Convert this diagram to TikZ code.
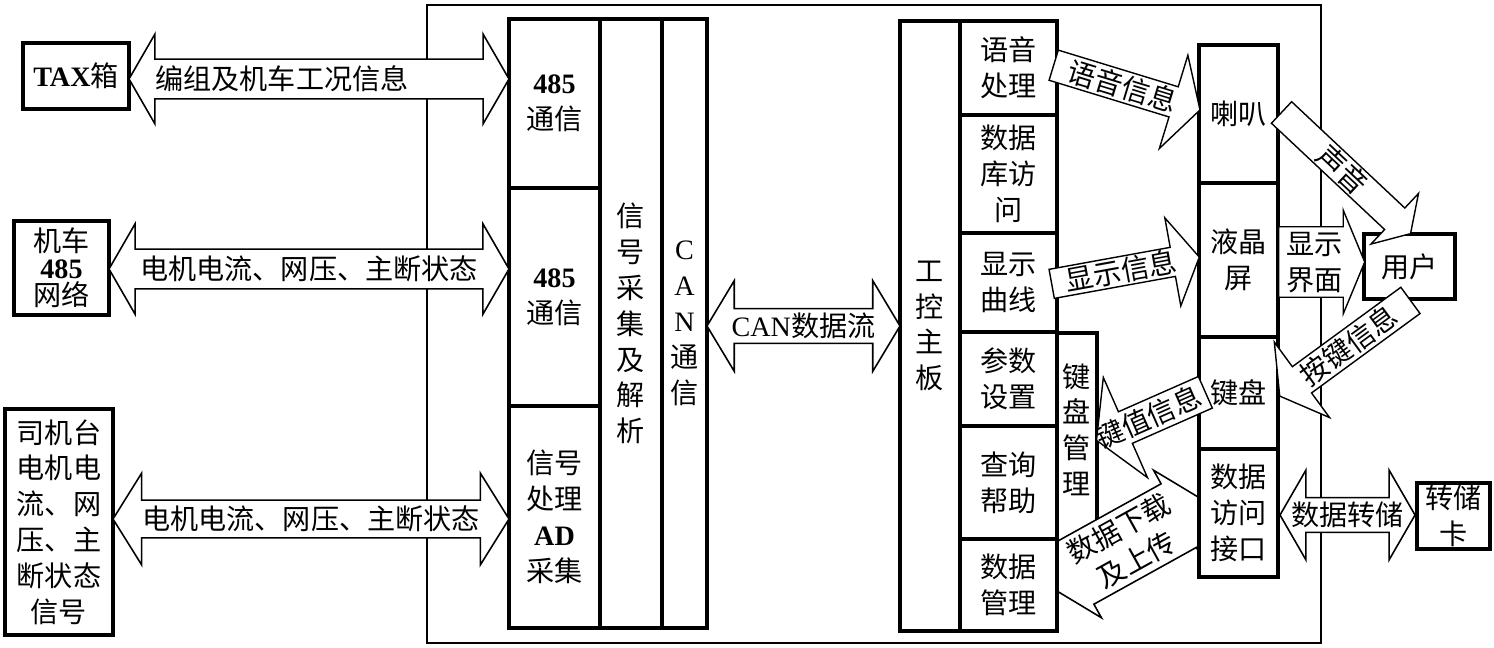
\documentclass[tikz,border=0pt]{standalone}
\usepackage{fontspec}
\setmainfont{Noto Sans CJK SC}
\newfontfamily\latin{Liberation Serif}
\usetikzlibrary{shapes.arrows, positioning}

\newcommand{\pxu}{0.02cm}
\newcommand{\cnfont}{\fontsize{16}{20.4}\selectfont}
\newcommand{\lt}[1]{{\latin\bfseries #1}}

\tikzset{
    cell/.style={rectangle, draw, line width=1.8pt, fill=white, inner sep=0pt, outer sep=0pt, align=center, font=\cnfont},
    sysframe/.style={rectangle, draw, line width=0.8pt, inner sep=0pt, outer sep=0pt},
    oneway/.style={single arrow, draw, fill=white, line width=0.8pt, inner xsep=0pt, inner ysep=0pt, text height=14.1pt, text depth=1.9pt, single arrow head extend=0.6cm, single arrow tip angle=120, font=\cnfont},
    twoway/.style={double arrow, draw, fill=white, line width=0.9pt, inner xsep=0pt, inner ysep=0.1cm, text height=14.1pt, text depth=1.9pt, double arrow head extend=0.5cm, double arrow tip angle=120, font=\cnfont},
    leftward/.style={shape border rotate=180}
}

\begin{document}
\begin{tikzpicture}[x=\pxu, y=-\pxu]
    \useasboundingbox (0,0) rectangle (1494,648);

    % Onboard unit frame
    \node[sysframe, minimum width=894*\pxu, minimum height=638*\pxu] (sys) at (874,324) {};

    % Keyboard management, lower part hidden by the data arrow
    \node[cell, minimum width=40*\pxu, minimum height=227*\pxu, text depth=0.7cm] (kbm) at (1077,446.5) {键\\盘\\管\\理};
    \node[twoway, rotate=29, align=center, minimum height=177*\pxu, text height=1.215cm, text depth=0.068cm, inner ysep=0.07cm, double arrow head extend=0.31cm] (dataio) at (1127.5,544) {数据下载\\及上传};

    % External devices
    \node[cell, minimum width=106*\pxu, minimum height=66*\pxu] (tax) at (76,76) {\lt{TAX}箱};
    \node[cell, minimum width=95*\pxu, minimum height=94*\pxu, font=\fontsize{16}{15.4}\selectfont] (loco) at (61.5,268) {机车\\\lt{485}\\网络};
    \node[cell, minimum width=108*\pxu, minimum height=226*\pxu] (desk) at (59,522) {司机台\\电机电\\流、网\\压、主\\断状态\\信号};

    % Acquisition board
    \node[cell, minimum width=91*\pxu, minimum height=169*\pxu, anchor=north] (com1) at (554.5,19) {\lt{485}\\通信};
    \node[cell, minimum width=91*\pxu, minimum height=218*\pxu, anchor=north] (com2) at (com1.south) {\lt{485}\\通信};
    \node[cell, minimum width=91*\pxu, minimum height=222*\pxu, anchor=north] (adc) at (com2.south) {信号\\处理\\\lt{AD}\\采集};
    \node[cell, minimum width=62*\pxu, minimum height=609*\pxu, anchor=north west] (sig) at (com1.north east) {信\\号\\采\\集\\及\\解\\析};
    \node[cell, minimum width=45*\pxu, minimum height=609*\pxu, anchor=north west] (canc) at (sig.north east) {{\latin C}\\{\latin A}\\{\latin N}\\通\\信};

    % Main board
    \node[cell, minimum width=60*\pxu, minimum height=610*\pxu, anchor=north west] (ipc) at (900,21) {工\\控\\主\\板};
    \node[cell, minimum width=97*\pxu, minimum height=94*\pxu, anchor=north west] (voice) at (ipc.north east) {语音\\处理};
    \node[cell, minimum width=97*\pxu, minimum height=118*\pxu, anchor=north] (dbase) at (voice.south) {数据\\库访\\问};
    \node[cell, minimum width=97*\pxu, minimum height=99*\pxu, anchor=north] (curve) at (dbase.south) {显示\\曲线};
    \node[cell, minimum width=97*\pxu, minimum height=94*\pxu, anchor=north] (param) at (curve.south) {参数\\设置};
    \node[cell, minimum width=97*\pxu, minimum height=113*\pxu, anchor=north] (query) at (param.south) {查询\\帮助};
    \node[cell, minimum width=97*\pxu, minimum height=92*\pxu, anchor=north] (dman) at (query.south) {数据\\管理};

    % Operator devices
    \node[cell, minimum width=79*\pxu, minimum height=138*\pxu, anchor=north west] (spk) at (1199,45) {喇叭};
    \node[cell, minimum width=79*\pxu, minimum height=154*\pxu, anchor=north] (lcd) at (spk.south) {液晶\\屏};
    \node[cell, minimum width=79*\pxu, minimum height=112*\pxu, anchor=north] (kbd) at (lcd.south) {键盘};
    \node[cell, minimum width=79*\pxu, minimum height=128*\pxu, anchor=north] (dai) at (kbd.south) {数据\\访问\\接口};
    \node[cell, minimum width=91*\pxu, minimum height=65*\pxu] (user) at (1409.5,266.5) {用户};
    \node[cell, minimum width=73*\pxu, minimum height=66*\pxu] (card) at (1453.5,516) {转储\\卡};

    % Signal flows on the left
    \node[twoway, minimum height=380*\pxu, double arrow head extend=0.5cm] (taxflow) at (319,79) {\makebox[0pt]{编组及机车工况信息\hspace{1.48cm}}};
    \node[twoway, minimum height=400*\pxu, double arrow head extend=0.51cm] (locoflow) at (309,269) {\makebox[0pt]{电机电流、网压、主断状态}};
    \node[twoway, minimum height=396*\pxu, inner ysep=0.08cm, double arrow head extend=0.54cm, double arrow tip angle=116] (deskflow) at (311,519) {\makebox[0pt]{电机电流、网压、主断状态}};
    \node[twoway, minimum height=193*\pxu, inner ysep=0.05cm, double arrow head extend=0.56cm, double arrow tip angle=118] (canflow) at (803.5,326) {\makebox[0pt]{{\latin CAN}数据流}};

    % Signal flows on the right
    \node[oneway, rotate=-17, anchor=tail, minimum height=153*\pxu, inner ysep=0.02cm, single arrow head extend=0.66cm, single arrow tip angle=121] (voiceinfo) at (1053,65) {\makebox[0pt]{语音信息}};
    \node[oneway, rotate=10.3, anchor=tail, minimum height=150*\pxu, single arrow head extend=0.6cm, single arrow tip angle=118] (showinfo) at (1051,284) {\makebox[0pt]{显示信息}};
    \node[oneway, anchor=tail, minimum height=86*\pxu, align=center, text height=1.215cm, text depth=0.068cm, inner ysep=0.05cm, single arrow head extend=0.33cm, single arrow tip angle=135] (uiflow) at (1278,262) {显示\\界面};
    \node[oneway, rotate=-43.2, anchor=tail, minimum height=177*\pxu, single arrow head extend=0.4cm, single arrow tip angle=116] (sound) at (1281,112) {\makebox[0pt]{声音}};
    \node[oneway, leftward, rotate=36.2, anchor=tail, minimum height=162*\pxu, inner ysep=0.03cm, single arrow head extend=0.61cm, single arrow tip angle=119] (keyin) at (1411,300) {\makebox[0pt]{按键信息}};
    \node[oneway, leftward, rotate=23.8, anchor=tail, minimum height=119*\pxu, inner ysep=0.05cm, single arrow head extend=0.75cm] (keyval) at (1206,392) {\makebox[0pt]{键值信息\hspace{0.3cm}}};
    \node[twoway, minimum height=135*\pxu, inner ysep=0.05cm, double arrow head extend=0.55cm] (dump) at (1347.5,515) {\makebox[0pt]{数据转储}};
\end{tikzpicture}
\end{document}
